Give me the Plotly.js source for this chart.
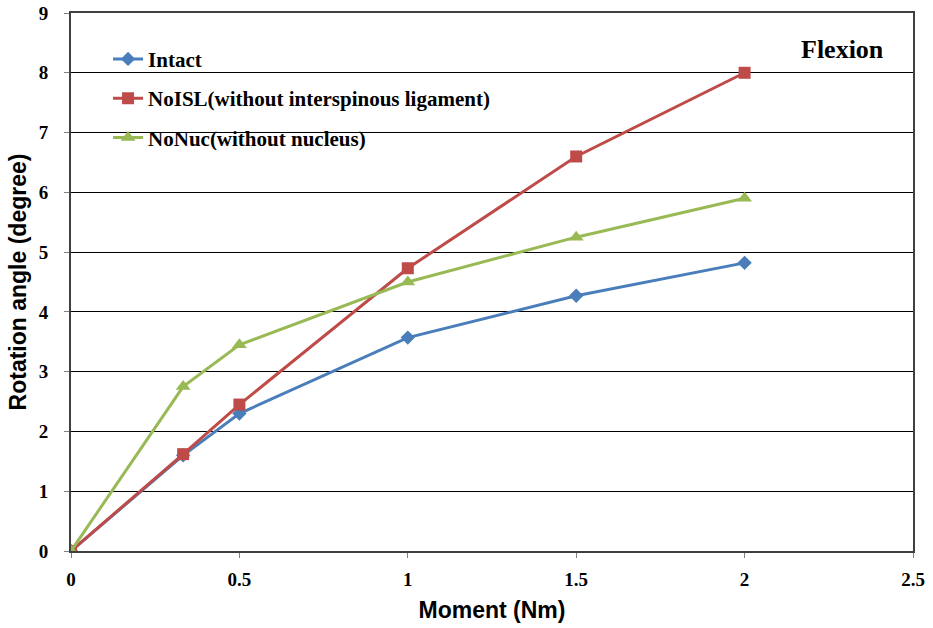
<!DOCTYPE html>
<html><head><meta charset="utf-8">
<script src="https://cdn.plot.ly/plotly-3.0.1.min.js"></script>
<style>html,body{margin:0;padding:0;background:#fff}#c{width:933px;height:628px}</style>
</head><body><div id="c"></div>
<script>
const moment = [0, 0.333, 0.5, 1, 1.5, 2];
const intact = [0, 1.6, 2.3, 3.57, 4.27, 4.82];
const noISL = [0, 1.62, 2.45, 4.73, 6.6, 8.0];
const noNuc = [0, 2.75, 3.45, 4.5, 5.25, 5.9];
const names = ['Intact', 'NoISL(without interspinous ligament)', 'NoNuc(without nucleus)'];
const colors = ['#4a7ebb', '#be4b48', '#98b954'];
const symbols = ['diamond', 'square', 'triangle-up'];
const sizes = [11, 12, 13];
const series = [intact, noISL, noNuc];

const traces = series.map((ys, i) => ({
  x: moment, y: ys, name: names[i], mode: 'lines+markers', type: 'scatter',
  line: {color: colors[i], width: 3},
  marker: {color: colors[i], symbol: symbols[i], size: sizes[i]},
  legendgroup: 'g' + i
}));

const serif = 'Liberation Serif, Times New Roman, serif';
const sans = 'Liberation Sans, Arial, sans-serif';

const layout = {
  width: 933, height: 628,
  margin: {l: 71, r: 20, t: 13, b: 77},
  paper_bgcolor: '#fff', plot_bgcolor: '#fff',
  showlegend: true,
  legend: {
    x: 0.044, y: 0.952, xanchor: 'left', yanchor: 'top',
    bgcolor: 'rgba(0,0,0,0)', traceorder: 'grouped', tracegroupgap: 9,
    font: {family: serif, size: 21, color: '#000', weight: 'bold'},
    itemwidth: 30
  },
  xaxis: {
    range: [0, 2.5], dtick: 0.5, tick0: 0,
    showgrid: false, zeroline: false,
    showline: true, linecolor: '#404040', linewidth: 2, mirror: true,
    ticks: 'outside', ticklen: 5, tickcolor: '#808080',
    tickfont: {family: serif, size: 19, color: '#000', weight: 'bold'},
    ticklabelstandoff: 5,
    title: {text: 'Moment (Nm)', font: {family: sans, size: 23, color: '#000', weight: 'bold'}, standoff: 13}
  },
  yaxis: {
    range: [0, 9], dtick: 1, tick0: 0,
    showgrid: true, gridcolor: '#000', gridwidth: 1, zeroline: false,
    showline: true, linecolor: '#404040', linewidth: 2, mirror: true,
    ticks: 'outside', ticklen: 5, tickcolor: '#808080',
    tickfont: {family: serif, size: 19, color: '#000', weight: 'bold'},
    ticklabelstandoff: 12,
    title: {text: 'Rotation angle (degree)', font: {family: sans, size: 23, color: '#000', weight: 'bold'}, standoff: 6}
  },
  shapes: [{
    type: 'rect', xref: 'paper', yref: 'paper', layer: 'between',
    x0: 24 / 842, x1: 436 / 842, y0: 1 - 140 / 538, y1: 1 - 15 / 538,
    fillcolor: '#fff', line: {width: 0}
  }],
  annotations: [{
    text: 'Flexion', xref: 'paper', yref: 'paper', x: 815 / 842, y: 1 - 37 / 538,
    xanchor: 'right', yanchor: 'middle', showarrow: false,
    font: {family: serif, size: 26, color: '#000', weight: 'bold'}
  }]
};

Plotly.newPlot('c', traces, layout, {displayModeBar: false, staticPlot: true});
</script></body></html>
